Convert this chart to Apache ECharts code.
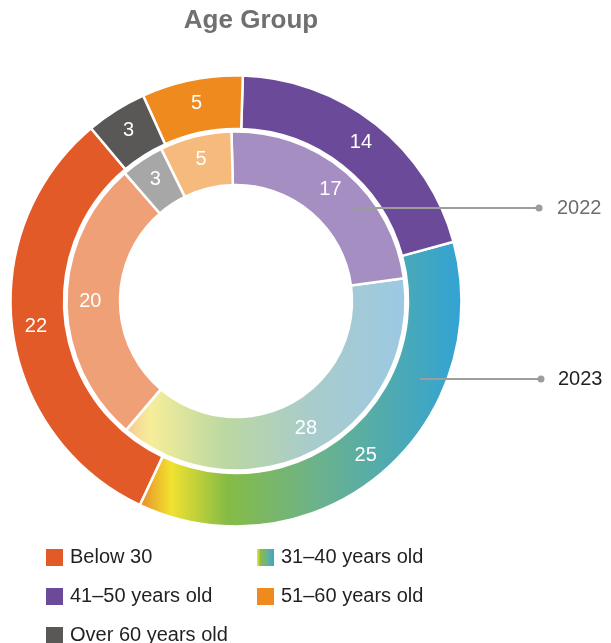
<!DOCTYPE html>
<html>
<head>
<meta charset="utf-8">
<script src="https://cdn.jsdelivr.net/npm/echarts@6/dist/echarts.min.js"></script>
<style>
html,body{margin:0;padding:0;background:#fff;}
#chart{width:611px;height:643px;}
</style>
</head>
<body>
<div id="chart"></div>
<script>
// ---- data ----
var categories = ['Below 30', '31–40 years old', '41–50 years old', '51–60 years old', 'Over 60 years old'];
var values2023 = [22, 25, 14, 5, 3];
var values2022 = [20, 28, 17, 5, 3];
var leftLegend = ['Below 30', '41–50 years old', 'Over 60 years old'];
var rightLegend = ['31–40 years old', '51–60 years old'];
var yearLabels = ['2022', '2023'];

// ---- styles ----
var FONT = '"Liberation Sans", Arial, Helvetica, sans-serif';
function hGrad(stops) {
  return new echarts.graphic.LinearGradient(0, 0, 1, 0, stops.map(function (s) { return { offset: s[0], color: s[1] }; }));
}
var outerColors = [
  '#E35A29',
  hGrad([[0, '#E98A2A'], [0.1, '#F1E22F'], [0.27, '#86BC45'], [0.55, '#6CB28C'], [1, '#32A3D5']]),
  '#6C4A9A',
  '#EF8A1E',
  '#595857'
];
var innerColors = [
  '#F0A077',
  hGrad([[0, '#F6C796'], [0.09, '#F6EE99'], [0.35, '#BCD8A1'], [0.65, '#A9CCCA'], [1, '#9CC8E3']]),
  '#A48EC2',
  '#F6BA7C',
  '#A7A7A7'
];

function buildData(vals, colors) {
  return categories.map(function (c, i) {
    return { name: c, value: vals[i], itemStyle: { color: colors[i] } };
  });
}

var labelStyle = { show: true, position: 'inside', formatter: '{c}', color: '#ffffff', fontSize: 20, fontFamily: FONT };

var chart = echarts.init(document.getElementById('chart'), null, { renderer: 'canvas' });
var legendCommon = {
  orient: 'vertical', icon: 'rect', itemWidth: 19, itemHeight: 19, itemGap: 18, padding: 0,
  height: 140, selectedMode: false,
  textStyle: { fontSize: 20, color: '#231f20', fontFamily: FONT, lineHeight: 19, padding: [0, 0, 0, 1] }
};
chart.setOption({
  animation: false,
  backgroundColor: '#ffffff',
  title: {
    text: 'Age Group', left: 251, top: 8, textAlign: 'center', padding: 0,
    textStyle: { fontSize: 26, fontWeight: 'bold', color: '#707070', fontFamily: FONT }
  },
  legend: [
    Object.assign({}, legendCommon, { data: leftLegend, left: 44, top: 547 }),
    Object.assign({}, legendCommon, { data: rightLegend, left: 255, top: 547 })
  ],
  series: [
    {
      name: '2023', type: 'pie', center: [236, 301], radius: [172, 225.5],
      startAngle: 130, clockwise: false, avoidLabelOverlap: false,
      itemStyle: { borderColor: '#ffffff', borderWidth: 2.5 },
      label: labelStyle, labelLine: { show: false }, emphasis: { disabled: true },
      data: buildData(values2023, outerColors)
    },
    {
      name: '2022', type: 'pie', center: [236, 301], radius: [116, 169.5],
      startAngle: 131, clockwise: false, avoidLabelOverlap: false,
      itemStyle: { borderColor: '#ffffff', borderWidth: 2.5 },
      label: labelStyle, labelLine: { show: false }, emphasis: { disabled: true },
      data: buildData(values2022, innerColors)
    }
  ],
  graphic: [
    { type: 'line', z: 100, shape: { x1: 352, y1: 208, x2: 539, y2: 208 }, style: { stroke: '#9d9d9d', lineWidth: 2 } },
    { type: 'circle', z: 100, shape: { cx: 539, cy: 208, r: 3.5 }, style: { fill: '#9d9d9d' } },
    { type: 'text', z: 100, x: 557, y: 208, style: { text: yearLabels[0], fill: '#6d6d6d', fontSize: 20, fontFamily: FONT, verticalAlign: 'middle' } },
    { type: 'line', z: 100, shape: { x1: 420, y1: 379, x2: 541, y2: 379 }, style: { stroke: '#9d9d9d', lineWidth: 2 } },
    { type: 'circle', z: 100, shape: { cx: 541, cy: 379, r: 3.5 }, style: { fill: '#9d9d9d' } },
    { type: 'text', z: 100, x: 558, y: 379, style: { text: yearLabels[1], fill: '#231f20', fontSize: 20, fontFamily: FONT, verticalAlign: 'middle' } }
  ]
});
</script>
</body>
</html>
